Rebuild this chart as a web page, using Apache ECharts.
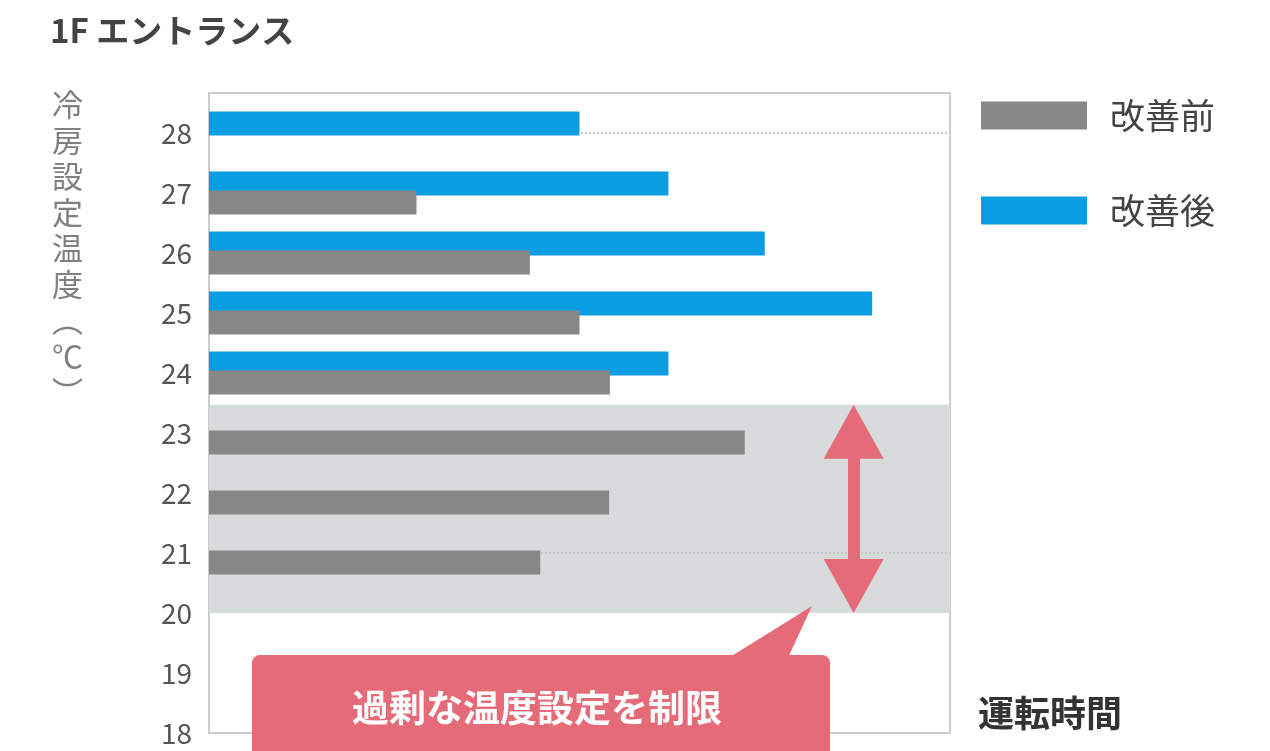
<!DOCTYPE html>
<html>
<head>
<meta charset="utf-8">
<script src="https://cdn.jsdelivr.net/npm/echarts@6/dist/echarts.min.js"></script>
<style>
html,body{margin:0;padding:0;background:#fff;}
#chart{width:1270px;height:751px;}
</style>
</head>
<body>
<div id="chart"></div>
<script>
// ---- data ----
const temps = ['18', '19', '20', '21', '22', '23', '24', '25', '26', '27', '28'];
const before = [null, null, null, 44.7, 54, 72.3, 54.1, 50, 43.3, 28, null];   // 改善前
const after  = [null, null, null, null, null, null, 62, 89.5, 75, 62, 50];      // 改善後
const seriesNames = ['改善前', '改善後'];
const bandRange = [20, 23.47];     // restricted range (gray band)
const arrowX = 87;

const FONT = '"Noto Sans CJK JP", "Noto Sans", sans-serif';
const RED = '#e56b79';

const chart = echarts.init(document.getElementById('chart'));
const option = {
  backgroundColor: '#fff',
  animation: false,
  textStyle: { fontFamily: FONT },
  legend: {
    data: seriesNames,
    orient: 'vertical',
    left: 976, top: 93,
    icon: 'rect',
    itemWidth: 106, itemHeight: 28,
    itemGap: 60,
    textStyle: { fontSize: 35, color: '#444', padding: [6, 0, 0, 18], fontFamily: FONT }
  },
  grid: [
    { left: 209, top: 93, width: 741, height: 640, show: true, borderColor: '#cccccc', borderWidth: 2, backgroundColor: '#fff' },
    { left: 209, top: 133, width: 741, height: 600 }
  ],
  xAxis: [
    { gridIndex: 0, type: 'value', min: 0, max: 100, show: false },
    { gridIndex: 1, type: 'value', min: 0, max: 100, show: false }
  ],
  yAxis: [
    { gridIndex: 0, type: 'value', min: 18, max: 18 + 640 / 60, show: false },
    {
      gridIndex: 1, type: 'category', data: temps, boundaryGap: false, z: 1.5,
      axisLine: { show: false }, axisTick: { show: false },
      axisLabel: { fontSize: 28, color: '#555', margin: 17, fontFamily: FONT },
      splitLine: {
        show: true,
        interval: function (idx, val) { return val === '28' || val === '21'; },
        lineStyle: { type: 'dotted', color: '#c9c9c9', width: 2 }
      }
    }
  ],
  series: [
    {
      type: 'line', xAxisIndex: 0, yAxisIndex: 0, data: [], silent: true, z: 1,
      markArea: {
        silent: true,
        itemStyle: { color: '#d7dbdb' },
        data: [[{ yAxis: bandRange[0] }, { yAxis: bandRange[1] }]]
      }
    },
    {
      name: seriesNames[1], type: 'bar', xAxisIndex: 1, yAxisIndex: 1,
      data: after, barWidth: 24, barGap: '-20%', clip: false, z: 2,
      itemStyle: { color: '#0a9de4' }
    },
    {
      name: seriesNames[0], type: 'bar', xAxisIndex: 1, yAxisIndex: 1,
      data: before, barWidth: 24, barGap: '-20%', clip: false, z: 2,
      itemStyle: { color: '#878787' }
    },
    {
      type: 'line', xAxisIndex: 0, yAxisIndex: 0, data: [], silent: true, z: 4,
      markLine: {
        silent: true,
        symbol: ['triangle', 'triangle'],
        symbolSize: [60, 54],
        label: { show: false },
        lineStyle: { color: RED, width: 12, type: 'solid', opacity: 1 },
        data: [[{ coord: [arrowX, bandRange[1] - 0.45] }, { coord: [arrowX, bandRange[0] + 0.45] }]]
      }
    }
  ],
  graphic: [
    { type: 'text', left: 50, top: 14, style: { text: '1F エントランス', font: 'bold 33px ' + FONT, fill: '#444' } },
    { type: 'text', left: 52, top: 86, style: { text: '冷\n房\n設\n定\n温\n度\n︵\n℃\n︶', font: '31px ' + FONT, lineHeight: 36, fill: '#808080', align: 'center' } },
    { type: 'text', left: 978, top: 695, style: { text: '運転時間', font: 'bold 36px ' + FONT, fill: '#333' } },
    { type: 'rect', z: 10, shape: { x: 252, y: 655, width: 578, height: 130, r: 8 }, style: { fill: RED } },
    { type: 'polygon', z: 10, shape: { points: [[722, 662], [812, 606], [786, 662]] }, style: { fill: RED } },
    { type: 'text', z: 11, left: 352, top: 689, style: { text: '過剰な温度設定を制限', font: 'bold 37px ' + FONT, fill: '#fff' } }
  ]
};
chart.setOption(option);
</script>
</body>
</html>
